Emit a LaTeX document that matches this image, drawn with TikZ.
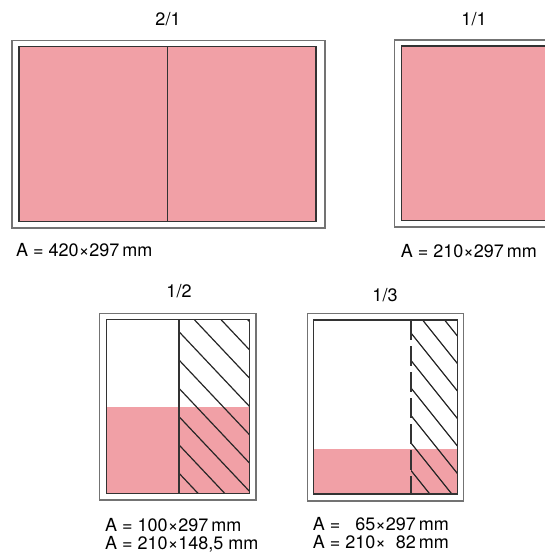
\documentclass[tikz,border=0pt]{standalone}
\usepackage{fontspec}
\setmainfont{TeX Gyre Heros}
\definecolor{sheetpink}{HTML}{F1A0A6}
\tikzset{
  outerframe/.style={draw=black!55, line width=1.6pt},
  sheet/.style={draw=black!80, line width=1.4pt},
  fold/.style={draw=black!80, line width=1.4pt},
  hatchline/.style={draw=black!85, line width=1.2pt},
  title/.style={inner sep=0pt, anchor=base, font=\fontsize{18}{21}\selectfont},
  sizetext/.style={inner sep=0pt, anchor=base west, font=\fontsize{18}{21}\selectfont},
}

\begin{document}
\begin{tikzpicture}[x=1pt, y=-1pt]
  \useasboundingbox (0,0) rectangle (545,556);
  \clip (0,0) rectangle (545,556);

  % format 2/1
  \node[title] (t21) at (168,26) {2/1};
  \draw[outerframe] (12,40.5) rectangle (325,228);
  \fill[sheetpink] (19,46.5) rectangle (316,221.5);
  \draw[fold] (167.7,46.5) -- (167.7,221.5);
  \draw[sheet] (19,46.5) rectangle (316,221.5);
  \node[sizetext] (a21) at (16,256.5) {A = 420×297\,mm};

  % format 1/1
  \node[title] (t11) at (474,26) {1/1};
  \draw[outerframe] (394.5,40) rectangle (562,227);
  \fill[sheetpink] (401.7,46) rectangle (554,220.5);
  \draw[sheet] (401.7,46) rectangle (554,220.5);
  \node[sizetext] (a11) at (400.7,257) {A = 210×297\,mm};

  % format 1/2
  \node[title] (t12) at (179,297) {1/2};
  \draw[outerframe] (99.3,313.3) rectangle (255.7,500);
  \fill[sheetpink] (106.7,406.7) rectangle (249.3,493.3);
  \begin{scope}
    \clip (179,319.3) rectangle (249.3,493.3);
    \foreach \k in {-4,...,5}
      \draw[hatchline] (179,331.7+28.3*\k) -- ++(100,106);
  \end{scope}
  \draw[fold] (179,319.3) -- (179,493.3);
  \draw[sheet] (106.7,319.3) rectangle (249.3,493.3);
  \node[sizetext] (a12a) at (105,531.5) {A = 100×297\,mm};
  \node[sizetext] (a12b) at (105,549.3) {A = 210×148,5 mm};

  % format 1/3
  \node[title] (t13) at (385,301) {1/3};
  \draw[outerframe] (307.3,313.3) rectangle (463.3,500.7);
  \fill[sheetpink] (313.3,449) rectangle (457.7,494);
  \begin{scope}
    \clip (411,320) rectangle (457.7,494);
    \foreach \k in {-2,...,5}
      \draw[hatchline] (411,333+27.5*\k) -- ++(60,75);
  \end{scope}
  \draw[fold, dash pattern=on 20pt off 6pt] (411,320) -- (411,494);
  \draw[sheet] (313.3,320) rectangle (457.7,494);
  \node[sizetext] (a13a) at (312.7,530) {A = \phantom{2}65×297\,mm};
  \node[sizetext] (a13b) at (312.7,548.3) {A = 210×\phantom{2}82\,mm};
\end{tikzpicture}
\end{document}
